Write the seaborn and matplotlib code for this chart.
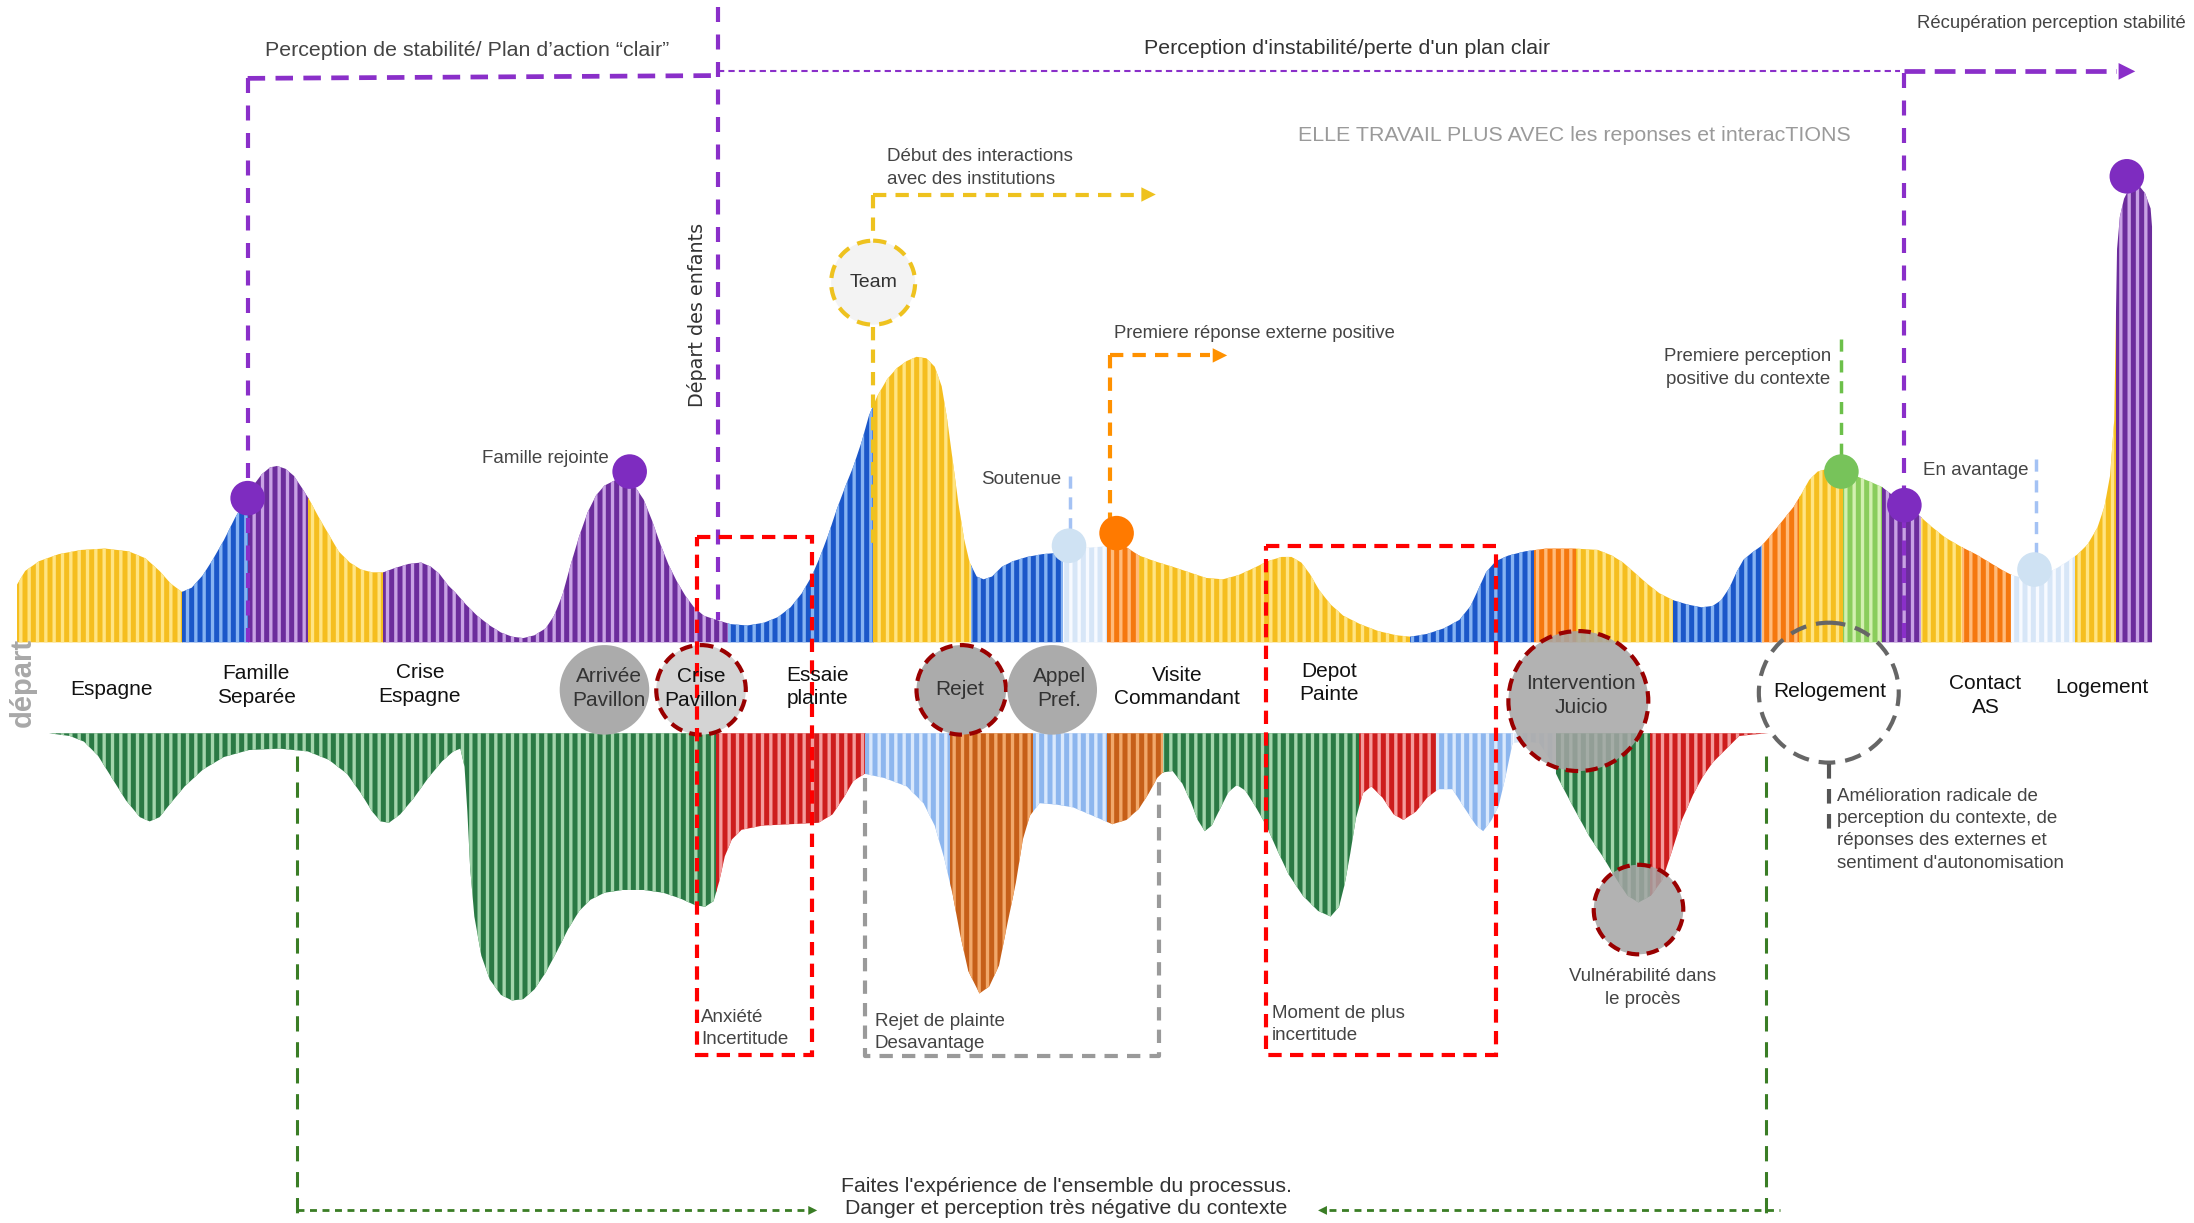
import pandas as pd
import matplotlib.pyplot as plt
from matplotlib.patches import Polygon, Rectangle, Circle
import seaborn as sns

# all positions are in units of the 1568 x 874 view of the chart

# upper band (positive perception), baseline at 459
top_base = 459
top_x = [12, 12, 18, 28, 42, 58, 75, 92, 104, 114, 122, 130, 137, 145, 152, 160, 168, 175, 181, 187,
         193, 198, 204, 210, 216, 221, 228, 235, 242, 250, 258, 266, 274, 282, 292, 301, 308, 314, 320,
         326, 333, 341, 350, 358, 366, 374, 382, 390, 396, 402, 408, 414, 420, 426, 432, 440, 447, 454,
         460, 466, 472, 478, 484, 490, 496, 503, 512, 522, 534, 546, 556, 565, 573, 580, 586, 592, 598,
         604, 610, 616, 621, 627, 634, 641, 648, 655, 662, 668, 673, 677, 681, 685, 689, 693, 698, 703,
         709, 716, 724, 734, 745, 757, 770, 783, 795, 805, 814, 825, 838, 850, 862, 874, 885, 896, 906,
         916, 923, 930, 936, 943, 951, 960, 972, 985, 998, 1008, 1020, 1032, 1043, 1051, 1057, 1062,
         1069, 1078, 1090, 1105, 1125, 1142, 1152, 1160, 1168, 1177, 1186, 1196, 1206, 1216, 1224,
         1230, 1236, 1241, 1246, 1252, 1259, 1266, 1274, 1282, 1288, 1293, 1299, 1306, 1316, 1326,
         1336, 1345, 1354, 1361, 1370, 1380, 1390, 1402, 1412, 1422, 1432, 1438, 1446, 1454, 1462,
         1470, 1478, 1485, 1492, 1499, 1504, 1508, 1511, 1512, 1513, 1515, 1518, 1521, 1524, 1529,
         1533, 1537, 1538, 1538]
top_y = [459, 418, 408, 401, 396, 393, 392, 394, 399, 408, 417, 423, 420, 411, 400, 386, 370, 358, 347,
         339, 334, 333, 335, 340, 349, 357, 370, 382, 394, 402, 407, 409, 409, 406, 403, 402, 405, 410,
         418, 424, 432, 440, 447, 452, 455, 456, 454, 449, 440, 425, 403, 383, 366, 354, 347, 343, 344,
         348, 357, 372, 389, 404, 416, 426, 434, 440, 443, 446, 447, 445, 441, 434, 424, 412, 398, 382,
         364, 348, 333, 315, 297, 283, 271, 263, 258, 255, 256, 262, 276, 300, 330, 360, 385, 402, 412,
         414, 412, 405, 401, 398, 396, 395, 392, 391, 390, 391, 397, 401, 405, 409, 413, 414, 411, 406,
         401, 398, 398, 402, 410, 422, 432, 440, 446, 451, 454, 455, 453, 449, 443, 433, 420, 409, 401,
         397, 394, 392, 392, 393, 397, 402, 409, 417, 424, 429, 432, 434, 433, 429, 420, 409, 400, 395,
         390, 382, 372, 362, 352, 343, 337, 335, 336, 340, 344, 348, 355, 361, 367, 376, 384, 391, 396,
         402, 408, 411, 413, 413, 410, 406, 401, 396, 389, 377, 362, 340, 300, 238, 178, 155, 142, 136,
         132, 133, 138, 149, 162, 459]
top_breaks = [12, 130, 177, 220, 274, 520, 624, 694, 760, 791, 814, 1008, 1096, 1126, 1196, 1259, 1286,
              1317, 1345, 1373, 1402, 1437, 1483, 1512, 1540]
top_colors = ["yellow", "blue", "purple", "yellow", "purple", "blue", "yellow", "blue", "pale", "orange",
              "yellow", "blue", "orange", "yellow", "blue", "orange", "yellow", "lgreen", "purple",
              "yellow", "orange", "pale", "yellow", "purple"]

# lower band (negative perception), baseline at 524
bot_base = 524
bot_x = [15, 35, 50, 60, 70, 80, 90, 100, 107, 114, 122, 132, 145, 160, 178, 200, 220, 235, 248, 258,
         266, 272, 278, 286, 296, 306, 316, 324, 329, 332, 334, 336, 339, 344, 350, 358, 366, 374, 382,
         390, 398, 406, 414, 422, 432, 445, 460, 474, 486, 497, 504, 510, 514, 518, 523, 530, 545, 565,
         585, 595, 603, 610, 618, 632, 648, 660, 668, 675, 681, 686, 692, 700, 707, 714, 720, 726, 731,
         736, 743, 755, 767, 781, 795, 805, 814, 821, 827, 831, 838, 845, 851, 856, 861, 866, 871, 878,
         884, 890, 897, 905, 913, 921, 931, 942, 951, 957, 961, 965, 969, 974, 980, 988, 996, 1003, 1012,
         1020, 1028, 1038, 1047, 1055, 1060, 1066, 1071, 1076, 1081, 1090, 1100, 1106, 1114, 1125, 1136,
         1146, 1155, 1163, 1171, 1180, 1188, 1195, 1202, 1210, 1217, 1224, 1231, 1237, 1243, 1252, 1264]
bot_y = [524, 524, 526, 530, 540, 556, 572, 584, 587, 584, 574, 562, 550, 541, 536, 535, 537, 543, 553,
         567, 580, 587, 588, 582, 570, 556, 544, 537, 535, 548, 580, 620, 655, 683, 700, 711, 715, 714,
         707, 695, 680, 664, 651, 643, 638, 636, 636, 638, 642, 647, 648, 644, 630, 612, 600, 593, 590,
         589, 588, 582, 570, 558, 553, 556, 562, 574, 590, 614, 640, 667, 694, 710, 705, 690, 660, 631,
         600, 583, 574, 575, 577, 583, 589, 586, 578, 567, 556, 552, 551, 560, 573, 586, 594, 590, 580,
         566, 561, 565, 576, 590, 608, 625, 640, 651, 655, 648, 632, 610, 585, 567, 562, 570, 582, 586,
         580, 570, 564, 564, 578, 590, 594, 586, 576, 555, 531, 530, 531, 540, 557, 578, 598, 613, 628,
         640, 645, 640, 629, 608, 586, 568, 555, 545, 538, 532, 526, 525, 524]
bot_breaks = [15, 512, 618, 679, 738, 791, 831, 971, 1026, 1081, 1112, 1179, 1265]
bot_colors = ["green", "red", "lblue", "brown", "lblue", "brown", "green", "red", "lblue", "pale",
              "green", "red"]

stripe_colors = {
    "yellow": ("#f5be1f", "#ffe483"),
    "blue": ("#1b57c9", "#86b3f2"),
    "purple": ("#6c2d9c", "#c8a2e4"),
    "orange": ("#f5780f", "#ffbb7a"),
    "pale": ("#d7e6f7", "#f7faff"),
    "lgreen": ("#8acd5c", "#d3f0b0"),
    "green": ("#2a7944", "#a3d5ac"),
    "red": ("#cd1d1d", "#f49c9c"),
    "lblue": ("#8db6ee", "#d9e8fc"),
    "brown": ("#c65f18", "#f1a86a"),
}

steps = ["Espagne", "Famille\nSeparée", "Crise\nEspagne", "Arrivée\nPavillon", "Crise\nPavillon",
         "Essaie\nplainte", "Rejet", "Appel\nPref.", "Visite\nCommandant", "Depot\nPainte",
         "Intervention\nJuicio", "Relogement", "Contact\nAS", "Logement"]
step_x = [80, 183, 300, 435, 501, 584, 686, 757, 841, 950, 1130, 1308, 1419, 1502]
step_y = [493, 490, 489, 492, 492, 491, 493, 492, 491, 488, 497, 494, 497, 491]

dot_x = [177, 450, 764, 798, 1316, 1361, 1454, 1520]
dot_y = [356, 337, 390, 381, 337, 361, 407, 126]
dot_kind = ["purple", "purple", "pale", "orange", "green", "purple", "pale", "purple"]
dot_palette = {"purple": "#7e2cc0", "pale": "#cfe2f3", "orange": "#ff7a00", "green": "#77c35a"}

sns.set_theme(style="white")
plt.rcParams["font.family"] = ["Liberation Sans", "DejaVu Sans"]
plt.rcParams["hatch.linewidth"] = 2.4

fig = plt.figure(figsize=(21.94, 12.23), dpi=100)
ax = fig.add_axes([0, 0, 1, 1])
ax.set_xlim(0, 1568)
ax.set_ylim(874, 0)
ax.axis("off")


def striped_band(xs, ys, base, breaks, colors):
    verts = [(xs[0], base)] + list(zip(xs, ys)) + [(xs[-1], base)]
    clip = Polygon(verts, closed=True, transform=ax.transData)
    lo = min(ys + [base]) - 2
    hi = max(ys + [base]) + 2
    for x0, x1, c in zip(breaks[:-1], breaks[1:], colors):
        face, light = stripe_colors[c]
        r = Rectangle((x0, lo), x1 - x0 + 0.6, hi - lo, facecolor=face, edgecolor=light,
                      hatch="||", lw=0, zorder=2)
        ax.add_patch(r)
        r.set_clip_path(clip)


striped_band(top_x, top_y, top_base, top_breaks, top_colors)
striped_band(bot_x, bot_y, bot_base, bot_breaks, bot_colors)


def dashed(xs, ys, color, lw, on, off, z=4):
    ax.plot(xs, ys, color=color, lw=lw, linestyle=(0, (on, off)), dash_capstyle="butt", zorder=z)


def head(x, y, dx, color, size=26):
    ax.annotate("", xy=(x, y), xytext=(x - dx, y),
                arrowprops=dict(arrowstyle="-|>", color=color, lw=0, mutation_scale=size), zorder=5)


purple = "#8a2fc9"
# purple frame: stable / unstable / recovered
dashed([177, 177], [56, 459], purple, 3, 3.6, 3.0)
dashed([177, 513], [56, 54], purple, 3.4, 3.7, 2.2)
dashed([513, 513], [5, 443], purple, 3, 3.6, 3.0)
dashed([513, 1358], [51, 51], purple, 1.5, 3, 2)
dashed([1361, 1361], [52, 459], purple, 3, 3.6, 3.0)
dashed([1361, 1512], [51, 51], purple, 3.4, 4.4, 2.0)
head(1528, 51, 14, purple, 30)

# yellow: institutions
yellow = "#eec21f"
dashed([624, 624], [139, 171], yellow, 3, 3.2, 2.2)
dashed([624, 624], [234, 392], yellow, 3, 3.2, 2.2)
dashed([624, 815], [139, 139], yellow, 3, 3.2, 2.2)
head(828, 139, 12, yellow)
ax.add_patch(Circle((624, 202), 30, facecolor="#f3f3f3", edgecolor=yellow, lw=3,
                    linestyle=(0, (3.2, 2.2)), zorder=5))

# orange: first positive answer
orange = "#ff9100"
dashed([793, 793], [254, 370], orange, 3, 3.2, 2.2)
dashed([793, 865], [254, 254], orange, 3, 3.2, 2.2)
head(879, 254, 12, orange)

lightblue = "#a4c2f4"
dashed([765, 765], [340, 378], lightblue, 2.5, 3.5, 2.5)
dashed([1455, 1455], [328, 395], lightblue, 2.5, 3.5, 2.5)
dashed([1316, 1316], [242, 325], "#6cc04a", 2.5, 3.5, 2.5)

# red boxes and grey box
red = "#ff0000"
ax.add_patch(Rectangle((498, 384), 82, 370, fill=False, edgecolor=red, lw=3,
                       linestyle=(0, (3.2, 2.0)), zorder=6))
ax.add_patch(Rectangle((905, 390), 164, 364, fill=False, edgecolor=red, lw=3,
                       linestyle=(0, (3.2, 2.0)), zorder=6))
grey = "#9a9a9a"
dashed([618, 618, 828, 828], [556, 755, 755, 558], grey, 3, 3.2, 2.2, z=6)

# green "whole process" loop
green = "#3a7d25"
dashed([212, 212], [540, 874], green, 2.2, 5, 3.5)
dashed([1262, 1262], [540, 874], green, 2.2, 5, 3.5)
dashed([212, 576], [865, 865], green, 2, 2.5, 2)
dashed([950, 1272], [865, 865], green, 2, 2.5, 2)
head(586, 865, 10, green, 16)
head(940, 865, -10, green, 16)

# event circles in the white band
dark_red = "#990000"
ax.add_patch(Circle((432, 493), 32, facecolor="#ababab", lw=0, zorder=3))
ax.add_patch(Circle((501, 493), 32, facecolor="#d4d4d4", edgecolor=dark_red, lw=3,
                    linestyle=(0, (3, 1.8)), zorder=3))
ax.add_patch(Circle((687, 493), 32, facecolor="#ababab", edgecolor=dark_red, lw=3,
                    linestyle=(0, (3, 1.8)), zorder=3))
ax.add_patch(Circle((752, 493), 32, facecolor="#ababab", lw=0, zorder=3))
ax.add_patch(Circle((1128, 501), 50, facecolor="#a5a5a5", alpha=0.85, lw=0, zorder=3))
ax.add_patch(Circle((1128, 501), 50, fill=False, edgecolor=dark_red, lw=3,
                    linestyle=(0, (3, 1.8)), zorder=3))
ax.add_patch(Circle((1171, 650), 32, facecolor="#a5a5a5", alpha=0.85, lw=0, zorder=3))
ax.add_patch(Circle((1171, 650), 32, fill=False, edgecolor=dark_red, lw=3,
                    linestyle=(0, (3, 1.8)), zorder=3))
ax.add_patch(Circle((1307, 495), 50, fill=False, edgecolor="#666666", lw=3,
                    linestyle=(0, (4, 2.4)), zorder=3))
dashed([1307, 1307], [546, 598], "#555555", 3, 3.5, 2.5)

# key moments
dots = pd.DataFrame({"x": dot_x, "y": dot_y, "kind": dot_kind})
sns.scatterplot(data=dots, x="x", y="y", hue="kind", palette=dot_palette, s=620, linewidth=0,
                legend=False, ax=ax, zorder=7)
ax.set_xlim(0, 1568)
ax.set_ylim(874, 0)
ax.axis("off")

for s, x, y in zip(steps, step_x, step_y):
    col = "#333333" if s in ("Arrivée\nPavillon", "Rejet", "Appel\nPref.", "Intervention\nJuicio") else "#111111"
    ax.text(x, y, s, ha="center", va="center", fontsize=15, color=col, linespacing=1.3, zorder=8)

ax.text(16, 488, "départ", rotation=90, ha="center", va="center", fontsize=21, fontweight="bold",
        color="#a8a8a8", zorder=8)
ax.text(498, 225, "Départ des enfants", rotation=90, ha="center", va="center", fontsize=13.8,
        color="#333333", family="DejaVu Sans", zorder=8)

note = dict(color="#444444", zorder=8)
ax.text(334, 36, "Perception de stabilité/ Plan d’action “clair”", ha="center", va="center",
        fontsize=15.4, **note)
ax.text(963, 35, "Perception d'instabilité/perte d'un plan clair", ha="center", va="center",
        fontsize=15.4, color="#333333")
ax.text(1562, 17, "Récupération perception stabilité", ha="right", va="center", fontsize=13.3, **note)
ax.text(1125, 97, "ELLE TRAVAIL PLUS AVEC les reponses et interacTIONS", ha="center", va="center",
        fontsize=15.4, color="#9a9a9a")
ax.text(634, 120, "Début des interactions\navec des institutions", ha="left", va="center",
        fontsize=13.5, linespacing=1.4, **note)
ax.text(624, 202, "Team", ha="center", va="center", fontsize=14, color="#333333", zorder=8)
ax.text(796, 238, "Premiere réponse externe positive", ha="left", va="center", fontsize=13.3, **note)
ax.text(730, 343, "Soutenue", ha="center", va="center", fontsize=13.5, **note)
ax.text(390, 328, "Famille rejointe", ha="center", va="center", fontsize=13.5, **note)
ax.text(1249, 263, "Premiere perception\npositive du contexte", ha="center", va="center",
        fontsize=13.4, linespacing=1.4, **note)
ax.text(1412, 336, "En avantage", ha="center", va="center", fontsize=13.5, **note)
ax.text(1313, 593, "Amélioration radicale de\nperception du contexte, de\nréponses des externes et\n"
        "sentiment d'autonomisation", ha="left", va="center", fontsize=13.5, linespacing=1.4, **note)
ax.text(1174, 706, "Vulnérabilité dans\nle procès", ha="center", va="center", fontsize=13.4,
        linespacing=1.4, **note)
ax.text(501, 735, "Anxiété\nIncertitude", ha="left", va="center", fontsize=13.5, linespacing=1.4, **note)
ax.text(625, 738, "Rejet de plainte\nDesavantage", ha="left", va="center", fontsize=13.5,
        linespacing=1.4, **note)
ax.text(909, 732, "Moment de plus\nincertitude", ha="left", va="center", fontsize=13.5,
        linespacing=1.4, **note)
ax.text(762, 856, "Faites l'expérience de l'ensemble du processus.\nDanger et perception très négative du contexte",
        ha="center", va="center", fontsize=15.3, linespacing=1.2, color="#333333", zorder=8)

fig.savefig("out.png", dpi=100)
